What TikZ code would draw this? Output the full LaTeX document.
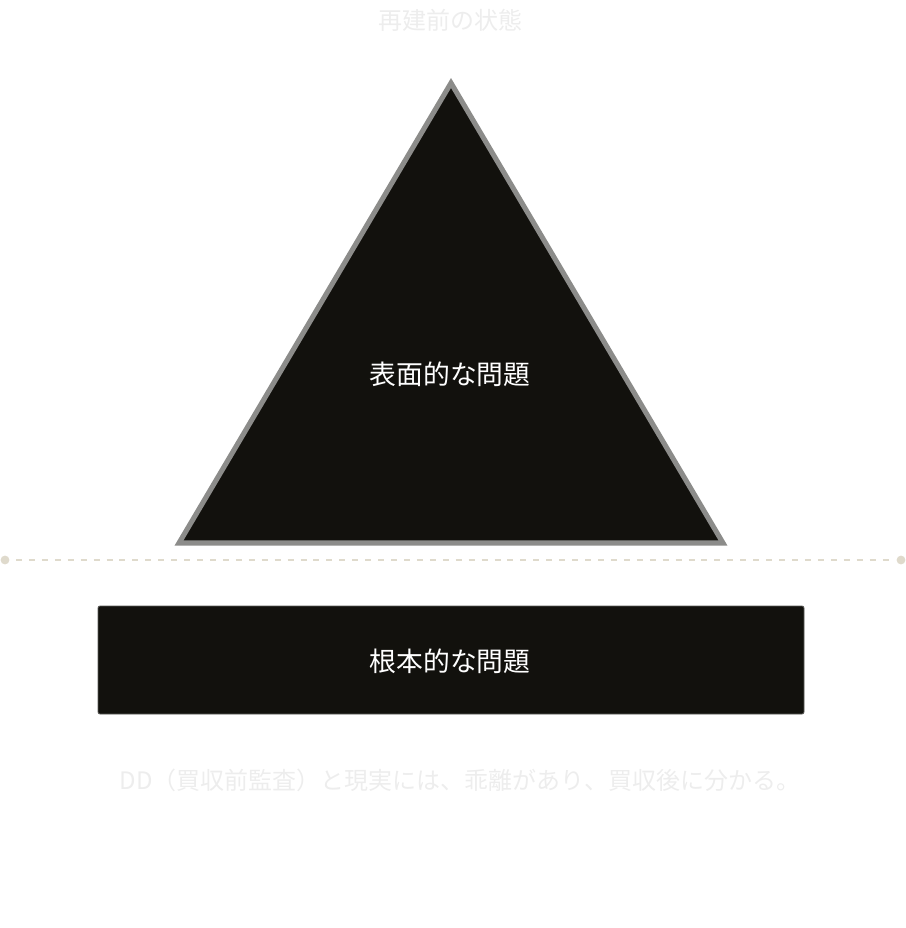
\documentclass[tikz,border=0pt]{standalone}
\usepackage{fontspec}
\setmainfont{Noto Sans CJK JP}
\usetikzlibrary{calc,positioning}

\definecolor{ink}{HTML}{12110D}
\definecolor{edge}{HTML}{8C8C8A}
\definecolor{sand}{HTML}{DFDACC}
\definecolor{faint}{HTML}{EDEDED}

\begin{document}
\begin{tikzpicture}[x=0.75pt, y=-0.75pt, line join=miter]
	\useasboundingbox (0,0) rectangle (906,928);

	% --- title ---
	\node[text=faint, font=\fontsize{18}{20}\selectfont] (title) at (450,20) {再建前の状態};

	% --- triangle ---
	\coordinate (A) at (451,83);
	\coordinate (B) at (179,543);
	\coordinate (C) at (723,543);
	\filldraw[fill=ink, draw=edge, line width=3.8pt] (A) -- (B) -- (C) -- cycle;
	\node[text=white, font=\fontsize{20.1}{22}\selectfont] (surface) at (450,374) {表面的な問題};

	% --- divider ---
	\coordinate (L) at (5,560);
	\coordinate (R) at (901,560);
	\draw[sand, line width=1.6pt, dash pattern=on 4.5pt off 5.2pt] ($(L)+(11,0)$) -- ($(R)+(-11,0)$);
	\fill[sand] (L) circle (3.3pt);
	\fill[sand] (R) circle (3.3pt);

	% --- base ---
	\draw[fill=ink, draw=edge!60!ink, line width=0.6pt, rounded corners=1.5pt] (98,606) rectangle (804,714);
	\node[text=white, font=\fontsize{20.1}{22}\selectfont] (root) at (450,661) {根本的な問題};

	% --- note ---
	\node[text=faint, font=\fontsize{18}{20}\selectfont] (note) at (460,780) {DD（買収前監査）と現実には、乖離があり、買収後に分かる。};
\end{tikzpicture}
\end{document}
